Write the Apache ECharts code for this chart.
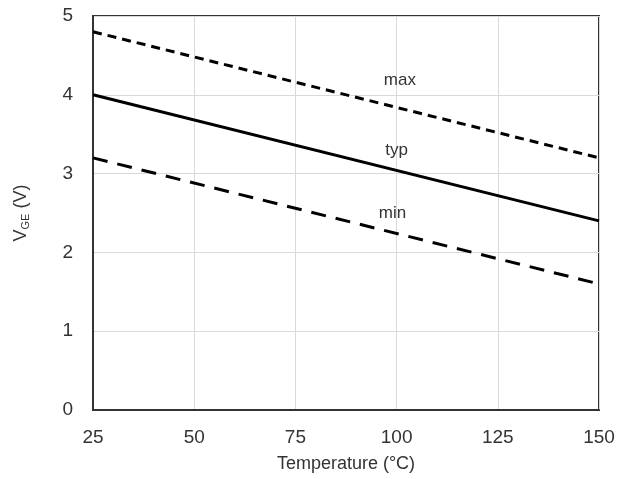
<!DOCTYPE html>
<html><head><meta charset="utf-8">
<script src="https://cdn.jsdelivr.net/npm/echarts@6/dist/echarts.min.js"></script>
<style>html,body{margin:0;padding:0;background:#fff}#c{width:619px;height:479px}</style>
</head><body><div id="c"></div>
<script>
const temps = [25, 150];
const vgeMax = [4.8, 3.2];
const vgeTyp = [4.0, 2.4];
const vgeMin = [3.2, 1.6];
const xTicks = [25, 50, 75, 100, 125, 150];
const yTicks = [0, 1, 2, 3, 4, 5];
const labelMax = {text: 'max', x: 100.8, y: 4.19};
const labelTyp = {text: 'typ', x: 100, y: 3.30};
const labelMin = {text: 'min', x: 99, y: 2.50};

function pairs(xs, ys){ return xs.map((x,i)=>[x, ys[i]]); }
function mp(l){
  return {symbol:'circle', symbolSize:1, silent:true, itemStyle:{color:'rgba(0,0,0,0)'},
    label:{show:true, formatter:l.text, position:'inside', color:'#333', fontSize:17, fontFamily:'Liberation Sans'},
    data:[{coord:[l.x,l.y], value:l.text}]};
}
const chart = echarts.init(document.getElementById('c'), null, {renderer:'canvas'});
const lineBase = {type:'line', showSymbol:false, symbol:'none', animation:false};
chart.setOption({
  animation:false,
  grid:{left:93, right:20, top:16, bottom:69, show:true, borderColor:'#333', borderWidth:2, backgroundColor:'transparent'},
  xAxis:{type:'value', min:xTicks[0], max:xTicks[xTicks.length-1], interval:25,
    name:'Temperature (°C)', nameLocation:'middle', nameGap:45,
    nameTextStyle:{color:'#333', fontSize:18, fontFamily:'Liberation Sans'},
    axisLine:{show:true, lineStyle:{color:'#333', width:2}}, axisTick:{show:false},
    axisLabel:{color:'#333', fontSize:19, fontFamily:'Liberation Sans', margin:18},
    splitLine:{show:true, lineStyle:{color:'#d9d9d9', width:1}}},
  yAxis:{type:'value', min:yTicks[0], max:yTicks[yTicks.length-1], interval:1,
    name:'{a|V}{b|GE}{a| (V)}', nameLocation:'middle', nameGap:62,
    nameTextStyle:{color:'#333', fontFamily:'Liberation Sans',
      rich:{a:{fontSize:18, color:'#333', fontFamily:'Liberation Sans'}, b:{fontSize:11, color:'#333', fontFamily:'Liberation Sans', padding:[9,0,0,0]}}},
    axisLine:{show:true, lineStyle:{color:'#333', width:2}}, axisTick:{show:false},
    axisLabel:{color:'#333', fontSize:19, fontFamily:'Liberation Sans', margin:20},
    splitLine:{show:true, lineStyle:{color:'#d9d9d9', width:1}}},
  series:[
    Object.assign({}, lineBase, {name:'max', data:pairs(temps, vgeMax),
      lineStyle:{color:'#000', width:3, type:[9,6]}, markPoint:mp(labelMax)}),
    Object.assign({}, lineBase, {name:'typ', data:pairs(temps, vgeTyp),
      lineStyle:{color:'#000', width:3, type:'solid'}, markPoint:mp(labelTyp)}),
    Object.assign({}, lineBase, {name:'min', data:pairs(temps, vgeMin),
      lineStyle:{color:'#000', width:3, type:[15,10]}, markPoint:mp(labelMin)})
  ]
});
</script></body></html>
